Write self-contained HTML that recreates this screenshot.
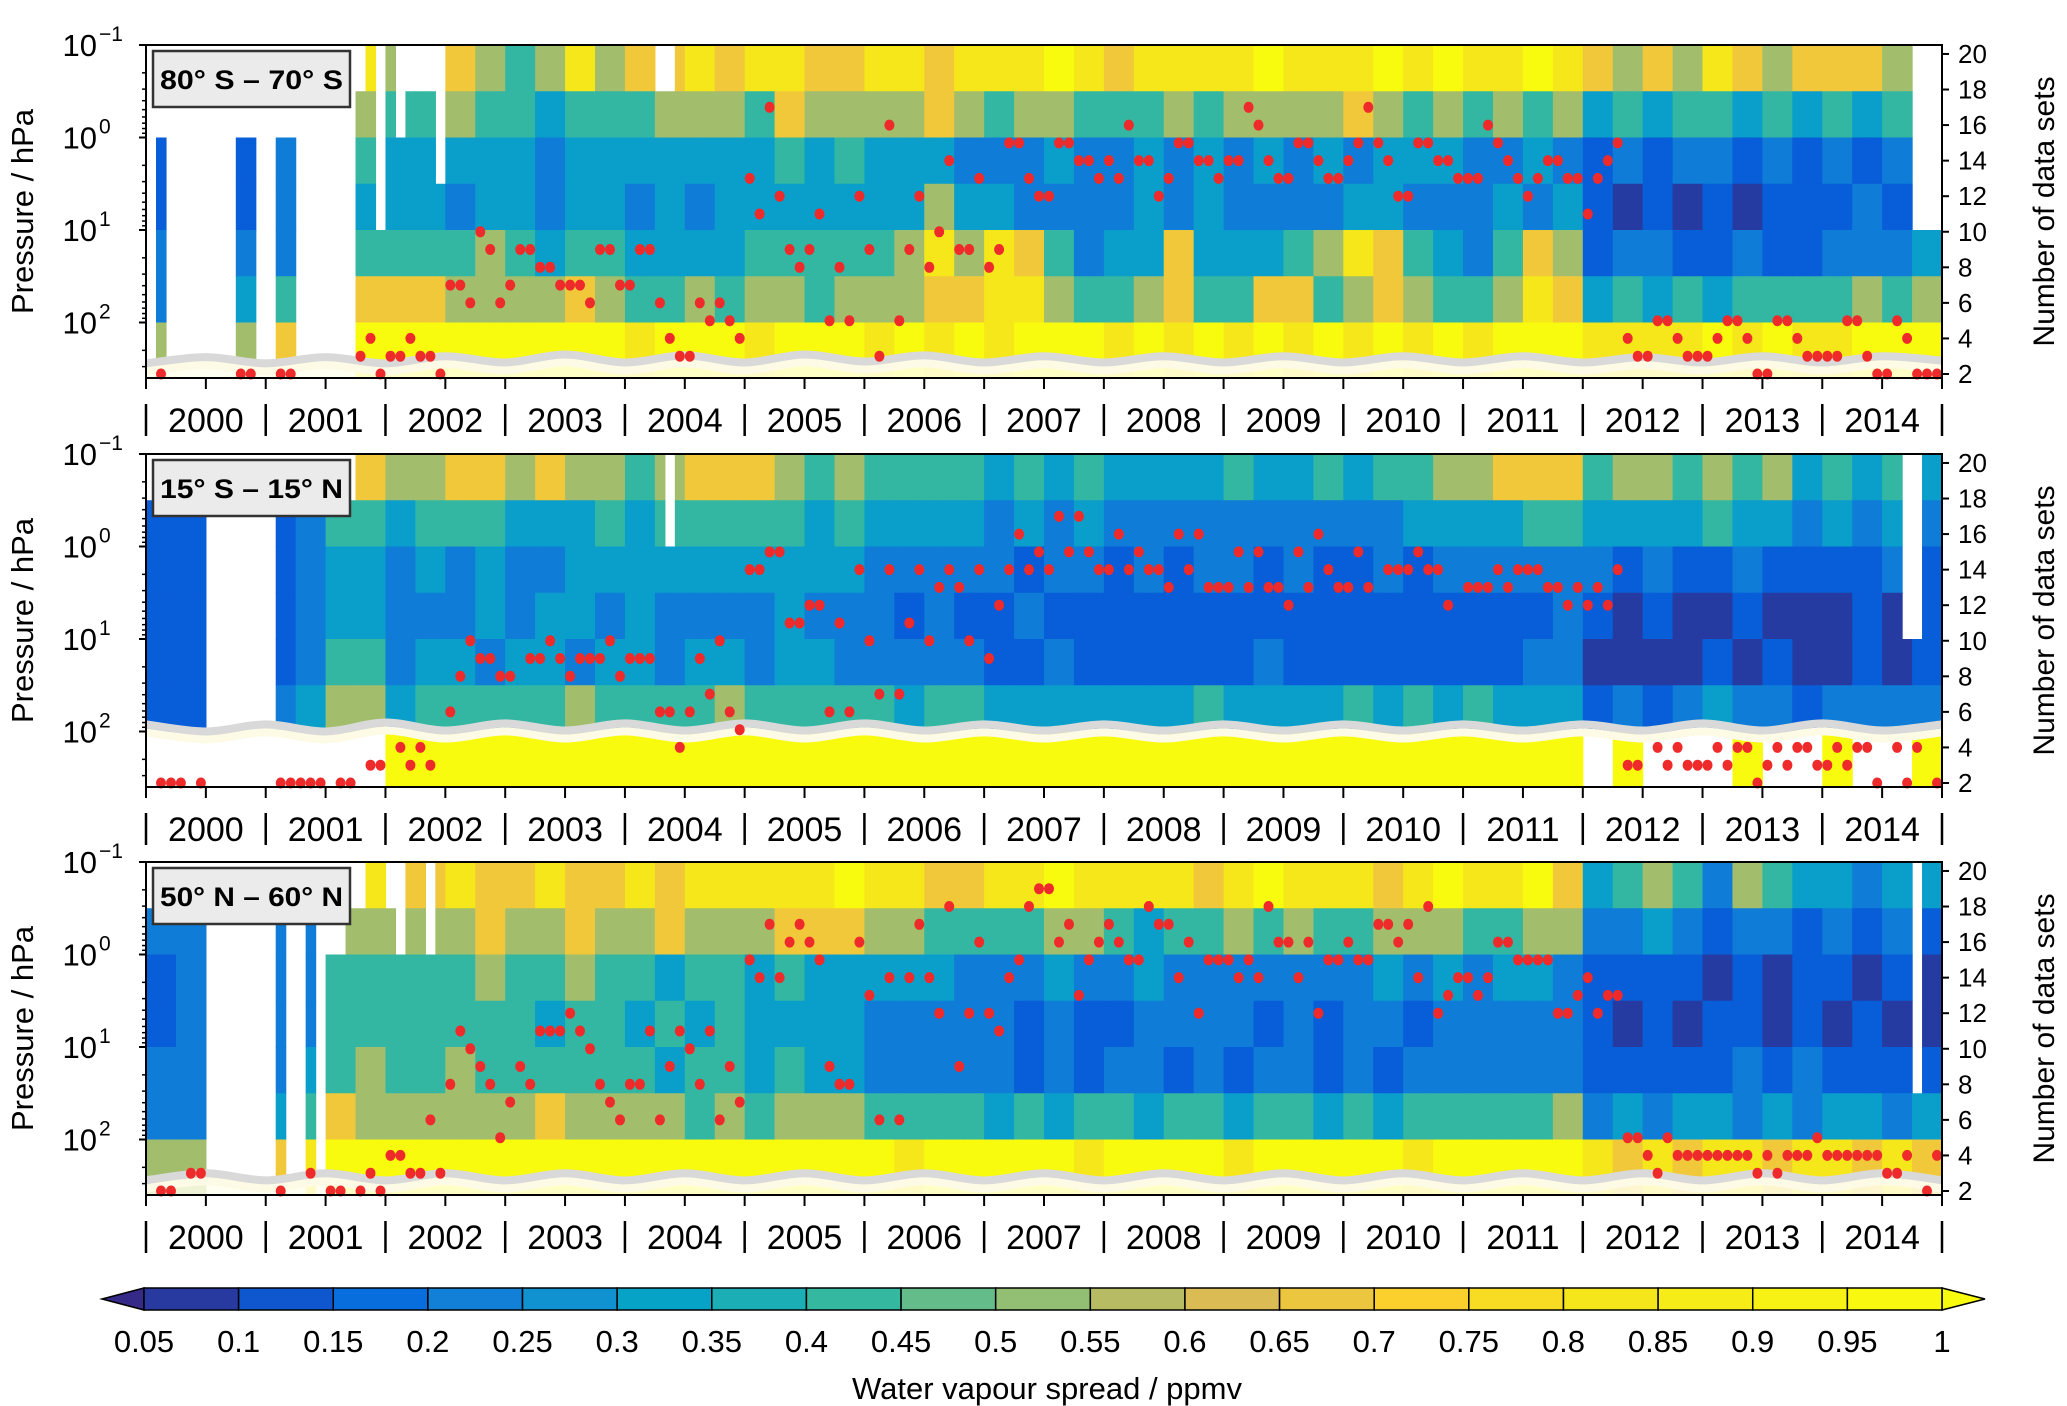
<!DOCTYPE html>
<html><head><meta charset="utf-8"><style>
html,body{margin:0;padding:0;background:#fff;}
svg{display:block;font-family:"Liberation Sans",Arial,sans-serif;}
</style></head><body>
<svg id="fig" xmlns="http://www.w3.org/2000/svg" width="2067" height="1406" viewBox="0 0 2067 1406"></svg>
<script>
// ---------- DATA ----------
const panelLabels = ["80° S – 70° S", "15° S – 15° N", "50° N – 60° N"];
const years = [2000,2001,2002,2003,2004,2005,2006,2007,2008,2009,2010,2011,2012,2013,2014];
const pressureEdgesLog = [-1,-0.5,0,0.5,1,1.5,2,2.6];
const cbTicks = ["0.05","0.1","0.15","0.2","0.25","0.3","0.35","0.4","0.45","0.5","0.55","0.6","0.65","0.7","0.75","0.8","0.85","0.9","0.95","1"];
const countTicks = [2,4,6,8,10,12,14,16,18,20];

// spread level per quarter (0=0.05 ... 9=1), 7 pressure bands top->bottom
const bands1 = [
"4444 4488 6676 5686 7787 8877 8878 8898 7888 8988 8989 8898 7676 8767 7766",
"3333 3376 5565 5455 5666 5766 6676 5665 5565 6666 7656 5656 4545 5454 5455",
"2222 3355 4444 4344 4444 4545 4443 3343 3434 3434 3444 3343 2323 3232 3232",
"2222 3354 4434 4344 3434 4444 4464 4333 3434 3333 4433 3434 2121 2122 2323",
"3333 3465 5556 5455 4444 5555 5686 8753 4474 4456 8754 3576 2332 2322 3334",
"3434 5777 7766 6676 5565 6656 6677 8865 5675 5775 6765 5687 4545 4555 5656",
"6666 7899 9999 9999 8999 8999 8989 8999 8989 8989 8989 8999 8888 9898 8999"];
const bands2 = [
"3333 3377 6677 6766 5677 7656 5555 4545 4444 5445 4556 6777 5665 6564 5454",
"2222 2355 4555 4445 4555 5545 4444 3434 3333 3333 3344 4455 4444 5443 4343",
"2222 2344 3434 3344 4444 4444 3333 3233 2323 3232 2323 3333 3232 2322 2232",
"2222 2344 3334 3443 4333 3433 3232 2322 2222 2222 2222 2223 2121 1211 1212",
"2222 2355 3443 4434 4344 3443 3333 2232 2222 2322 2222 2233 1111 2121 1212",
"2222 3466 4555 5565 5556 5555 5455 4444 4445 4444 5454 5444 2323 4332 3333",
".... .... 9999 9999 9999 9999 9999 9999 9999 9999 9999 9999 .9.. .9.. 9..9"];
const bands3 = [
"3333 3388 7787 7877 8788 8889 8877 8898 8887 8988 8789 8897 4565 3654 4344",
"3333 3366 6667 6676 6766 6777 6655 5566 5455 6565 5666 5566 3343 2332 3232",
"2323 3355 5556 5565 5455 4544 4443 3343 3433 3333 3434 3443 2222 1212 2121",
"2323 3355 5555 5455 4545 4444 3333 3232 2333 3232 3323 3333 2121 2212 1211",
"3333 3456 5565 5555 5455 4544 3333 3232 3323 2332 3233 3333 2222 2323 2222",
"3333 4576 6666 6766 6656 5666 5555 4545 5455 4554 5455 5556 3434 4343 4434",
"6666 7899 9999 9999 9999 9999 9899 9998 9999 8999 9989 9999 8787 8878 8787"];

// monthly coverage: first pressure band with data ('.' = no data)
const mask1 = "."+"2"+".......".concat("22","..","22","......","1","0","4","0","2","111","3")+"0".repeat(21)+"11"+"0".repeat(124)+"444";
const mask2 = "1".repeat(6)+".".repeat(7)+"1".repeat(8)+"0".repeat(31)+"2"+"0".repeat(123)+"44"+"00";
const mask3 = "11"+"1111"+".......".concat("1","..","1",".","22","11","00","1","2","00","2")+"0".repeat(148)+"5"+"00";

// number of data sets (red dots): month index & count
const months1 = [1,9,10,13,14,21,22,23,24,25,26,27,28,29,30,31,32,33,34,35,36,37,38,39,40,41,42,43,44,45,46,47,48,49,50,51,52,53,54,55,56,57,58,59,60,61,62,63,64,65,66,67,68,69,70,71,72,73,74,75,76,77,78,79,80,81,82,83,84,85,86,87,88,89,90,91,92,93,94,95,96,97,98,99,100,101,102,103,104,105,106,107,108,109,110,111,112,113,114,115,116,117,118,119,120,121,122,123,124,125,126,127,128,129,130,131,132,133,134,135,136,137,138,139,140,141,142,143,144,145,146,147,148,149,150,151,152,153,154,155,156,157,158,159,160,161,162,163,164,165,166,167,168,169,170,171,172,173,174,175,176,177,178,179];
const counts1 = [2,2,2,2,2,3,4,2,3,3,4,3,3,2,7,7,6,10,9,6,7,9,9,8,8,7,7,7,6,9,9,7,7,9,9,6,4,3,3,6,5,6,5,4,13,11,17,12,9,8,9,11,5,8,5,12,9,3,16,5,9,12,8,10,14,9,9,13,8,9,15,15,13,12,12,15,15,14,14,13,14,13,16,14,14,12,13,15,15,14,14,13,14,14,17,16,14,13,13,15,15,14,13,13,14,15,17,15,14,12,12,15,15,14,14,13,13,13,16,15,14,13,12,13,14,14,13,13,11,13,14,15,4,3,3,5,5,4,3,3,3,4,5,5,4,2,2,5,5,4,3,3,3,3,5,5,3,2,2,5,4,2,2,2];
const months2 = [1,2,3,5,13,14,15,16,17,19,20,22,23,25,26,27,28,30,31,32,33,34,35,36,38,39,40,41,42,43,44,45,46,47,48,49,50,51,52,53,54,55,56,57,58,59,60,61,62,63,64,65,66,67,68,69,70,71,72,73,74,75,76,77,78,79,80,81,82,83,84,85,86,87,88,89,90,91,92,93,94,95,96,97,98,99,100,101,102,103,104,105,106,107,108,109,110,111,112,113,114,115,116,117,118,119,120,121,122,124,125,126,127,128,129,130,132,133,134,135,136,137,138,139,140,141,142,143,144,145,146,147,148,149,151,152,153,154,155,156,157,158,159,160,161,162,163,164,165,166,167,168,169,170,171,172,173,175,176,177,179];
const counts2 = [2,2,2,2,2,2,2,2,2,2,2,3,3,4,3,4,3,6,8,10,9,9,8,8,9,9,10,9,8,9,9,9,10,8,9,9,9,6,6,4,6,9,7,10,6,5,14,14,15,15,11,11,12,12,6,11,6,14,10,7,14,7,11,14,10,13,14,13,10,14,9,12,14,16,14,15,14,17,15,17,15,14,14,16,14,15,14,14,13,16,14,16,13,13,13,15,13,15,13,13,12,15,13,16,14,13,13,15,13,14,14,14,15,14,14,12,13,13,13,14,13,14,14,14,13,13,12,13,12,13,12,14,3,3,4,3,4,3,3,3,4,3,4,4,2,3,4,3,4,4,3,3,4,3,4,4,2,4,2,4,2];
const months3 = [1,2,4,5,13,16,18,19,21,22,23,24,25,26,27,28,29,30,31,32,33,34,35,36,37,38,39,40,41,42,43,44,45,46,47,48,49,50,51,52,53,54,55,56,57,58,59,60,61,62,63,64,65,66,67,68,69,70,71,72,73,74,75,76,77,78,79,80,81,82,83,84,85,86,87,88,89,90,91,92,93,94,95,96,97,98,99,100,101,102,103,104,105,106,107,108,109,110,111,112,113,114,115,116,117,118,119,120,121,122,123,124,125,126,127,128,129,130,131,132,133,134,135,136,137,138,139,140,141,142,143,144,145,146,147,148,149,150,151,152,153,154,155,156,157,158,159,160,161,162,163,164,165,166,167,168,169,170,171,172,173,174,175,176,178,179];
const counts3 = [2,2,3,3,2,3,2,2,2,3,2,4,4,3,3,6,3,8,11,10,9,8,5,7,9,8,11,11,11,12,11,10,8,7,6,8,8,11,6,9,11,10,8,11,6,9,7,15,14,17,14,16,17,16,15,9,8,8,16,13,6,14,6,14,17,14,12,18,9,12,16,12,11,14,15,18,19,19,16,17,13,15,16,17,16,15,15,18,17,17,14,16,12,15,15,15,14,15,14,18,16,16,14,16,12,15,15,16,15,15,17,17,16,17,14,18,12,13,14,14,13,14,16,16,15,15,15,15,12,12,13,14,12,13,13,5,5,4,3,5,4,4,4,4,4,4,4,4,3,4,3,4,4,4,5,4,4,4,4,4,4,3,3,4,2,4];

// minimum-count envelope (grey line), half-yearly, in "number of data sets" units
const envelope1 = [2.6,2.95,2.6,2.95,2.6,3.0,2.65,3.1,2.65,3.05,2.65,3.1,2.7,3.05,2.65,3.0,2.65,3.0,2.65,3.0,2.65,3.0,2.65,3.0,2.65,2.95,2.65,3.0,2.65,3.0,2.75];
const envelope2 = [5.3,4.9,5.3,4.9,5.4,4.95,5.35,4.95,5.35,4.95,5.35,4.95,5.35,4.95,5.3,4.95,5.3,4.95,5.3,4.95,5.3,4.95,5.3,4.95,5.3,4.95,5.35,4.95,5.35,4.95,5.3];
const envelope3 = [2.6,3.0,2.6,3.0,2.6,3.0,2.6,3.0,2.6,3.0,2.6,3.0,2.6,3.0,2.6,3.0,2.6,3.0,2.6,3.0,2.6,3.0,2.6,3.0,2.6,3.0,2.6,3.0,2.6,3.0,2.6];

// ---------- DRAWING ----------
const NS="http://www.w3.org/2000/svg";
const svg=document.getElementById('fig');
const X0=146, X1=1942, H=333, TOPS=[45,454,862];
const NM=180;
function xm(m){return X0+m*(X1-X0)/NM;}
function xy(t){return X0+t*(X1-X0)/15;}
function ylog(top,lp){return top+(lp+1)/3.6*H;}
function ycnt(top,c){return top+329-(c-2)*17.78;}
const PAR=[[0,[53,42,135]],[0.1,[3,99,225]],[0.2,[20,133,212]],[0.3,[6,167,198]],[0.4,[56,185,158]],[0.5,[146,191,115]],[0.6,[217,186,86]],[0.7,[252,206,46]],[0.8,[245,228,29]],[1,[249,251,14]]];
function parula(t){t=Math.max(0,Math.min(1,t));for(let i=1;i<PAR.length;i++){if(t<=PAR[i][0]){const a=PAR[i-1],b=PAR[i],f=(t-a[0])/(b[0]-a[0]);const c=a[1].map((v,k)=>Math.round(v+(b[1][k]-v)*f));return `rgb(${c[0]},${c[1]},${c[2]})`;}}return 'rgb(249,251,14)';}
function levelColor(d){return parula(Math.pow(d/9,1.6));}
function el(tag,attrs,parent){const e=document.createElementNS(NS,tag);for(const k in attrs)e.setAttribute(k,attrs[k]);(parent||svg).appendChild(e);return e;}
function smoothPath(pts){let d=`M${pts[0][0]},${pts[0][1]}`;for(let i=0;i<pts.length-1;i++){const p0=pts[Math.max(0,i-1)],p1=pts[i],p2=pts[i+1],p3=pts[Math.min(pts.length-1,i+2)];const c1=[p1[0]+(p2[0]-p0[0])/6,p1[1]+(p2[1]-p0[1])/6],c2=[p2[0]-(p3[0]-p1[0])/6,p2[1]-(p3[1]-p1[1])/6];d+=` C${c1[0]},${c1[1]} ${c2[0]},${c2[1]} ${p2[0]},${p2[1]}`;}return d;}

const allBands=[bands1,bands2,bands3], allMasks=[mask1,mask2,mask3];
const allMonths=[months1,months2,months3], allCounts=[counts1,counts2,counts3];
const allEnv=[envelope1,envelope2,envelope3];

for(let p=0;p<3;p++){
  const top=TOPS[p], bot=top+H;
  const g=el('g',{});
  
  
  const clip=el('clipPath',{id:'clip'+p},g); el('rect',{x:X0,y:top,width:X1-X0,height:H},clip);
  const hm=el('g',{'clip-path':`url(#clip${p})`},g);
  
  
  const bands=allBands[p].map(s=>s.replace(/ /g,''));
  const mask=allMasks[p];
  for(let m=0;m<NM;m++){
    const mc=mask[m]; if(mc==='.'||mc===undefined) continue;
    const tb=parseInt(mc,10);
    for(let b=tb;b<7;b++){
      const ch=bands[b][Math.floor(m/3)]; if(ch==='.') continue;
      const y0=ylog(top,pressureEdgesLog[b]), y1=ylog(top,pressureEdgesLog[b+1]);
      const r=el('rect',{x:xm(m).toFixed(2),y:y0.toFixed(2),width:(xm(1)-xm(0)+0.6).toFixed(2),height:(y1-y0+0.6).toFixed(2),fill:levelColor(parseInt(ch,10))},hm);
      
      
    }
  }
  const env=allEnv[p];
  const pts=env.map((v,i)=>[xy(i*0.5),ycnt(top,v)]);
  if(p!==1){
    const fillD=smoothPath(pts)+` L${X1},${bot} L${X0},${bot} Z`;
    el('path',{d:fillD,fill:'rgba(255,255,238,0.82)'},hm);
  }
  el('path',{d:smoothPath(pts.map(q=>[q[0],q[1]+8])),fill:'none',stroke:'#fdfbe6',"stroke-width":8},hm);
  const ln=el('path',{d:smoothPath(pts),fill:'none',stroke:'#d9d9d9',"stroke-width":8},hm);
  
  
  const mo=allMonths[p], co=allCounts[p];
  for(let i=0;i<mo.length;i++){
    const c=el('ellipse',{cx:(xm(mo[i])+5).toFixed(1),cy:ycnt(top,co[i]).toFixed(1),rx:5,ry:5.5,fill:'#ee2a2a'},g);
    
    
  }
  el('rect',{x:X0,y:top,width:X1-X0,height:H,fill:'none',stroke:'#000',"stroke-width":2},g);
  for(let d=-1;d<=2;d++){
    const y=ylog(top,d);
    el('line',{x1:X0-7,x2:X0,y1:y,y2:y,stroke:'#000',"stroke-width":2},g);
    const t=el('text',{x:97,y:y+11,"font-size":31,"text-anchor":"end",fill:'#000'},g);
    t.textContent='10';
    
    
    const s=el('text',{x:99,y:y-4,"font-size":21,fill:'#000'},g);
    s.textContent=d<0?'−1':String(d);
    for(let k=2;k<10;k++){const lp=d+Math.log10(k); if(lp>2.6) break; const yy=ylog(top,lp); el('line',{x1:X0-4,x2:X0,y1:yy,y2:yy,stroke:'#000',"stroke-width":1.5},g);}
  }
  const yl=el('text',{x:0,y:0,"font-size":31,"text-anchor":"middle",transform:`translate(33,${top+H/2}) rotate(-90)`,fill:'#000'},g);
  yl.textContent='Pressure / hPa';
  
  
  countTicks.forEach(c=>{const y=ycnt(top,c);el('line',{x1:X1,x2:X1+7,y1:y,y2:y,stroke:'#000',"stroke-width":2},g);
    const t=el('text',{x:X1+16,y:y+9,"font-size":26,fill:'#000'},g);t.textContent=c;
    
    });
  const yr=el('text',{x:0,y:0,"font-size":30,"text-anchor":"middle",transform:`translate(2054,${top+H/2}) rotate(-90)`,fill:'#000'},g);
  yr.textContent='Number of data sets';
  
  
  for(let i=0;i<=30;i++){const x=xy(i*0.5);el('line',{x1:x,x2:x,y1:bot,y2:bot+11,stroke:'#000',"stroke-width":2},g);}
  for(let i=0;i<=15;i++){const x=xy(i);el('line',{x1:x,x2:x,y1:bot+26,y2:bot+58,stroke:'#000',"stroke-width":2.5},g);}
  years.forEach((yv,i)=>{const t=el('text',{x:xy(i+0.5),y:bot+54,"font-size":34,"text-anchor":"middle",fill:'#000'},g);t.textContent=yv;
    
    });
  const bx=el('g',{},g);
  
  
  el('rect',{x:153,y:top+6,width:197,height:56,fill:'#ebebeb',stroke:'#333',"stroke-width":2.5},bx);
  const lt=el('text',{x:160,y:top+44,"font-size":27,"font-weight":"bold",textLength:183,lengthAdjust:"spacingAndGlyphs",fill:'#000'},bx);
  lt.textContent=panelLabels[p];
}

const cb=el('g',{});


const CB0=144, CB1=1942, CBT=1288, CBB=1310, NSEG=19, sw=(CB1-CB0)/NSEG;
el('polygon',{points:`${CB0},${CBT} ${CB0},${CBB} 102,${(CBT+CBB)/2}`,fill:parula(0),stroke:'#000',"stroke-width":1.5},cb);
el('polygon',{points:`${CB1},${CBT} ${CB1},${CBB} 1985,${(CBT+CBB)/2}`,fill:parula(1),stroke:'#000',"stroke-width":1.5},cb);
for(let i=0;i<NSEG;i++){
  const r=el('rect',{x:CB0+i*sw,y:CBT,width:sw,height:CBB-CBT,fill:parula((i+0.5)/NSEG),stroke:'#000',"stroke-width":1.5},cb);
  
  
}
cbTicks.forEach((s,i)=>{const t=el('text',{x:CB0+i*sw,y:1352,"font-size":31,"text-anchor":"middle",fill:'#000'},cb);t.textContent=s;
  
  });
const ct=el('text',{x:1047,y:1399,"font-size":31,"text-anchor":"middle",fill:'#000'},cb);
ct.textContent='Water vapour spread / ppmv';


</script>
</body></html>
